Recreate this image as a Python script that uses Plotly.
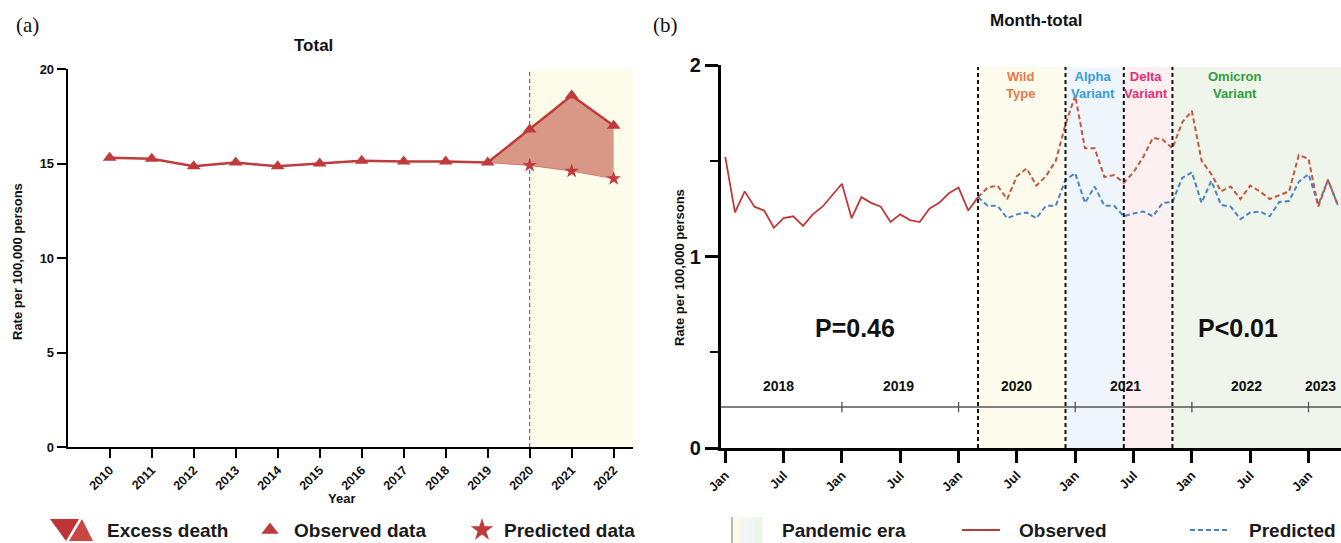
import math
import plotly.graph_objects as go

W, H = 1341, 543

# ---------------- data: panel (a) ----------------
years = [2010, 2011, 2012, 2013, 2014, 2015, 2016, 2017, 2018, 2019, 2020, 2021, 2022]
observed_annual = [15.3, 15.25, 14.85, 15.05, 14.85, 15.0, 15.15, 15.1, 15.1, 15.05, 16.8, 18.6, 17.0]
predicted_years = [2019, 2020, 2021, 2022]
predicted_annual = [15.05, 14.9, 14.6, 14.2]

# ---------------- data: panel (b) ----------------
# month index 0 = Jan 2018
observed_pre = [1.52, 1.23, 1.34, 1.26, 1.24, 1.15, 1.20, 1.21, 1.16, 1.22, 1.26, 1.32,
                1.38, 1.20, 1.31, 1.28, 1.26, 1.18, 1.22, 1.19, 1.18, 1.25, 1.28, 1.33,
                1.36, 1.24, 1.31]
observed_pandemic = [1.31, 1.36, 1.37, 1.30, 1.42, 1.46, 1.37, 1.42, 1.50, 1.69,
                     1.84, 1.565, 1.565, 1.415, 1.425, 1.385, 1.44, 1.52, 1.62, 1.61, 1.565, 1.70,
                     1.76, 1.50, 1.43, 1.34, 1.365, 1.30, 1.37, 1.34, 1.30, 1.32, 1.34, 1.53,
                     1.51, 1.26, 1.40, 1.27]
predicted_pandemic = [1.31, 1.265, 1.265, 1.20, 1.22, 1.23, 1.20, 1.265, 1.265, 1.40,
                      1.435, 1.28, 1.365, 1.265, 1.265, 1.21, 1.225, 1.235, 1.21, 1.28, 1.285, 1.41,
                      1.44, 1.28, 1.395, 1.27, 1.26, 1.195, 1.23, 1.235, 1.21, 1.285, 1.29, 1.39,
                      1.43, 1.27, 1.40, 1.27]
pandemic_start_month = 26
month_tick_labels = ["Jan", "Jul", "Jan", "Jul", "Jan", "Jul", "Jan", "Jul", "Jan", "Jul", "Jan"]
year_labels = ["2018", "2019", "2020", "2021", "2022", "2023"]
variant_names = ["Wild<br>Type", "Alpha<br>Variant", "Delta<br>Variant", "Omicron<br>Variant"]
variant_start = [26, 35, 41, 46]
variant_end = [35, 41, 46, 70]
variant_text_colors = ["#e8784c", "#3a9be0", "#e0307c", "#2f9e3c"]
variant_fill_colors = ["#fdfbeb", "#eef5fb", "#fcf0f0", "#eff5ea"]
p_values = ["P=0.46", "P<0.01"]

FONT = "Arial, 'Liberation Sans', sans-serif"
RED = "#c0393b"
RED_DASH = "#c5573f"
BLUE = "#4a84c6"


def px(x):
    return x / W


def py(y):
    return 1 - y / H


fig = go.Figure()

# ================= panel (a) =================
fig.add_shape(type="rect", xref="x", yref="y", x0=2020, x1=2022.46, y0=0, y1=20,
              fillcolor="#fdfbe9", line_width=0, layer="below")
fig.add_shape(type="line", xref="x", yref="y", x0=2020, x1=2020, y0=0, y1=20,
              line=dict(color="#555555", width=1, dash="4px,3px"), layer="below")

fig.add_trace(go.Scatter(x=predicted_years, y=predicted_annual, mode="lines",
                         line=dict(color="#cf7a6e", width=1), xaxis="x", yaxis="y",
                         showlegend=False, hoverinfo="skip"))
i19 = years.index(predicted_years[0])
fig.add_trace(go.Scatter(x=years[i19:], y=observed_annual[i19:], mode="lines",
                         fill="tonexty", fillcolor="#d99885", line=dict(width=0, color=RED),
                         xaxis="x", yaxis="y", showlegend=False))
fig.add_trace(go.Scatter(x=years, y=observed_annual, mode="lines+markers",
                         line=dict(color=RED, width=2.5),
                         marker=dict(symbol="triangle-up", size=12, color=RED),
                         xaxis="x", yaxis="y", showlegend=False))
fig.add_trace(go.Scatter(x=predicted_years[1:], y=predicted_annual[1:], mode="markers",
                         marker=dict(symbol="star", size=11, color=RED),
                         xaxis="x", yaxis="y", showlegend=False))

# ================= panel (b) =================
for s, e, c in zip(variant_start, variant_end, variant_fill_colors):
    fig.add_shape(type="rect", xref="x2", yref="y2", x0=s, x1=e, y0=0, y1=1.99,
                  fillcolor=c, line_width=0, layer="below")
for s in variant_start:
    fig.add_shape(type="line", xref="x2", yref="y2", x0=s, x1=s, y0=0, y1=1.99,
                  line=dict(color="#111111", width=2, dash="4px,3px"))

# inner year axis
YEAR_AXIS_Y = 0.214
fig.add_shape(type="line", xref="x2", yref="y2", x0=-0.5, x1=70, y0=YEAR_AXIS_Y, y1=YEAR_AXIS_Y,
              line=dict(color="#555555", width=1.3))
for k in range(1, len(year_labels)):
    m = 12 * k
    fig.add_shape(type="line", xref="x2", yref="y2", x0=m, x1=m, y0=YEAR_AXIS_Y - 0.027,
                  y1=YEAR_AXIS_Y + 0.027, line=dict(color="#555555", width=1.3))
year_label_pos = [5.5, 17.8, 30.0, 41.2, 53.6, 61.2]
for lab, m in zip(year_labels, year_label_pos):
    fig.add_annotation(x=m, y=0.325, xref="x2", yref="y2", text=lab, showarrow=False,
                       font=dict(family=FONT, size=14, color="#111", weight="bold"))

# variant labels
label_pos = [(variant_start[0] + variant_end[0]) / 2 - 0.1, 37.8, 43.3, 52.4]
for name, m, c in zip(variant_names, label_pos, variant_text_colors):
    fig.add_annotation(x=m, y=1.897, xref="x2", yref="y2", text=name, showarrow=False,
                       font=dict(family=FONT, size=13, color=c, weight="bold"))

# P values
for txt, m in zip(p_values, [13.3, 52.7]):
    fig.add_annotation(x=m, y=0.625, xref="x2", yref="y2", text=txt, showarrow=False,
                       font=dict(family=FONT, size=25, color="#111", weight="bold"))

months_pre = list(range(0, len(observed_pre)))
months_pan = list(range(pandemic_start_month, pandemic_start_month + len(observed_pandemic)))
fig.add_trace(go.Scatter(x=months_pre, y=observed_pre, mode="lines",
                         line=dict(color=RED, width=1.8), xaxis="x2", yaxis="y2", showlegend=False))
fig.add_trace(go.Scatter(x=months_pan, y=predicted_pandemic, mode="lines",
                         line=dict(color=BLUE, width=2, dash="5px,3px"), xaxis="x2", yaxis="y2",
                         showlegend=False))
fig.add_trace(go.Scatter(x=months_pan, y=observed_pandemic, mode="lines",
                         line=dict(color=RED_DASH, width=2, dash="5px,3px"), xaxis="x2", yaxis="y2",
                         showlegend=False))

# ================= legend icons (overlay axis in pixel units) =================
def icon(xs, ys, **kw):
    fig.add_trace(go.Scatter(x=xs, y=ys, xaxis="x3", yaxis="y3", showlegend=False,
                             hoverinfo="skip", **kw))

icon([50, 79, 66, 50], [519, 519, 541, 519], mode="lines", fill="toself",
     fillcolor="#bf3536", line=dict(width=0))
icon([82, 69, 93, 82], [519, 541, 541, 519], mode="lines", fill="toself",
     fillcolor="#c94644", line=dict(width=0))
icon([270], [530], mode="markers", marker=dict(symbol="triangle-up", size=15, color=RED))
icon([482], [530], mode="markers", marker=dict(symbol="star", size=17, color=RED))
sw = [(732, 740, "#fdfbe6"), (740, 747, "#f4f6f3"), (747, 754, "#f0f5f5"), (754, 763, "#eef5ea")]
for a, b, c in sw:
    icon([a, b, b, a, a], [517, 517, 543, 543, 517], mode="lines", fill="toself",
         fillcolor=c, line=dict(width=0))
icon([732, 732], [517, 543], mode="lines", line=dict(color="#777777", width=1))
icon([962, 1000], [530, 530], mode="lines", line=dict(color=RED, width=1.8))
icon([1190, 1228], [530, 530], mode="lines", line=dict(color=BLUE, width=2, dash="5px,3px"))

legend_texts = [("Excess death", 105, 19), ("Observed data", 292, 19), ("Predicted data", 502, 19),
                ("Pandemic era", 780, 19), ("Observed", 1017, 19), ("Predicted", 1247, 19)]
for t, x0, fs in legend_texts:
    fig.add_annotation(x=px(x0), y=py(530), xref="paper", yref="paper", xanchor="left",
                       yanchor="middle", text=t, showarrow=False,
                       font=dict(family=FONT, size=fs, color="#1a1a1a", weight="bold"))

# titles, panel letters, axis titles
def ann(t, x, y, size, weight="bold", family=FONT, angle=0):
    fig.add_annotation(x=px(x), y=py(y), xref="paper", yref="paper", text=t, showarrow=False,
                       textangle=angle, xanchor="center", yanchor="middle",
                       font=dict(family=family, size=size, color="#111", weight=weight))

ann("Total", 313, 45, 17)
ann("Month-total", 1036, 20, 17)
ann("(a)", 27, 25, 21, weight="normal", family="'Liberation Serif', 'DejaVu Serif', serif")
ann("(b)", 665, 25, 21, weight="normal", family="'Liberation Serif', 'DejaVu Serif', serif")
ann("Year", 341, 498, 13)
ann("Rate per 100,000 persons", 17, 262, 13, angle=-90)
ann("Rate per 100,000 persons", 679, 267, 13, angle=-90)

axis_common = dict(showgrid=False, zeroline=False, showline=True, linecolor="black",
                   ticks="outside", tickcolor="black", automargin=False)

fig.update_layout(
    width=W, height=H, autosize=False,
    margin=dict(l=0, r=0, t=0, b=0, pad=0, autoexpand=False),
    paper_bgcolor="white", plot_bgcolor="rgba(0,0,0,0)",
    showlegend=False,
    font=dict(family=FONT),
    xaxis=dict(domain=[px(67.7), px(633)], range=[2009.0, 2022.46], anchor="y",
               tickvals=years, ticktext=[str(y) for y in years], tickangle=-45,
               tickfont=dict(size=12.5, weight="bold", color="#111"),
               linewidth=2, tickwidth=2, ticklen=9, **axis_common),
    yaxis=dict(domain=[py(447), py(69)], range=[0, 20], anchor="x",
               tickvals=[0, 5, 10, 15, 20],
               tickfont=dict(size=13, weight="bold", color="#111"),
               linewidth=2, tickwidth=2, ticklen=9, **axis_common),
    xaxis2=dict(domain=[px(720.5), 1.0], range=[-0.49, 63.34], anchor="y2",
                tickvals=[6 * i for i in range(len(month_tick_labels))], ticktext=month_tick_labels,
                tickangle=-45, tickfont=dict(size=13, weight="bold", color="#111"),
                linewidth=2.5, tickwidth=2.5, ticklen=12, **axis_common),
    yaxis2=dict(domain=[py(448), py(65)], range=[0, 2], anchor="x2",
                tickvals=[0, 1, 2], ticktext=["0", "1", "2"],
                tickfont=dict(size=20, weight="bold", color="#111"),
                linewidth=2.5, tickwidth=2.5, ticklen=13,
                minor=dict(tickvals=[0.5, 1.5], ticks="outside", ticklen=8, tickwidth=2,
                           tickcolor="black", showgrid=False),
                **axis_common),
    xaxis3=dict(domain=[0, 1], range=[0, W], anchor="y3", visible=False, fixedrange=True),
    yaxis3=dict(domain=[0, 1], range=[H, 0], anchor="x3", visible=False, fixedrange=True),
)

fig.write_html("out.html", config={"displayModeBar": False},
               post_script="document.body.style.margin='0';document.body.style.overflow='hidden';")
